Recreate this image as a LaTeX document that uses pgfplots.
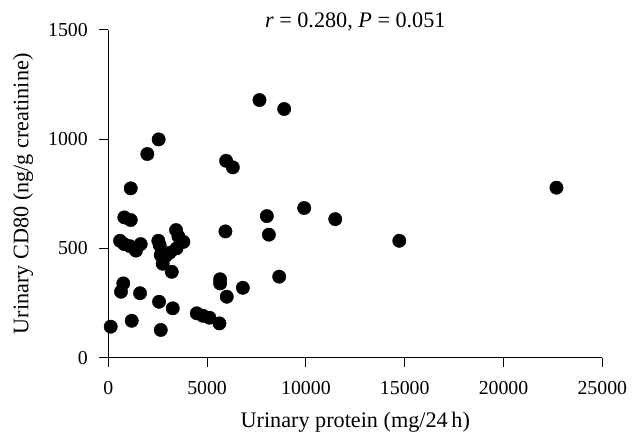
\documentclass[border=0pt]{standalone}
\usepackage{fontspec}
\setmainfont{Liberation Serif}
\usepackage{pgfplots}
\pgfplotsset{compat=1.18}
\begin{document}
\begin{tikzpicture}
\begin{axis}[
  at={(0,0)}, anchor=south west,
  scale only axis, width=494bp, height=327.8bp,
  xmin=0, xmax=25000, ymin=0, ymax=1500,
  axis x line*=bottom, axis y line*=left,
  axis line style={-, line width=0.9pt},
  tick align=outside, major tick length=9bp,
  tick style={line width=0.9pt, black},
  xtick={0,5000,...,25000}, ytick={0,500,1000,1500},
  scaled x ticks=false,
  /pgf/number format/assume math mode=true,
  xticklabel style={/pgf/number format/1000 sep={}, font=\fontsize{19.8bp}{22bp}\selectfont, yshift=-11bp},
  yticklabel style={/pgf/number format/1000 sep={}, font=\fontsize{19.8bp}{22bp}\selectfont, xshift=-8bp},
  xlabel={Urinary protein (mg/24\,h)},
  ylabel={Urinary CD80 (ng/g creatinine)},
  xlabel style={font=\fontsize{22.2bp}{24bp}\selectfont, at={(axis description cs:0.5,0)}, anchor=base, yshift=-70bp},
  ylabel style={font=\fontsize{22.2bp}{24bp}\selectfont, at={(axis description cs:-0.162,0.5)}, anchor=base},
  clip=false,
]
\addplot[only marks, mark=*, mark size=6.7bp, mark options={fill=black, draw=black}] coordinates {
(7650,1179) (8900,1138) (2548,999) (1976,932) (5963,901) (6302,871)
(1135,775) (811,642) (1135,630) (9914,685) (8024,648) (8126,563)
(5927,578) (11486,634) (14727,535) (22680,778)
(593,535) (800,520) (1100,510) (1400,490) (1640,520)
(2533,535) (2600,515) (2650,470) (2750,430) (3211,393)
(3430,584) (3550,555) (3800,530) (3450,500) (3100,480) (2900,465)
(760,340) (643,302) (1606,295) (2569,256) (3262,226)
(122,142) (1185,169) (2655,127)
(5659,359) (5659,340) (5996,279) (6809,320) (8648,371)
(4478,203) (4782,192) (5117,183) (5624,157)
};
\node[anchor=base, yshift=2bp] at (axis cs:12500,1500) {\fontsize{22.2bp}{24bp}\selectfont \textit{r} = 0.280, \textit{P} = 0.051};
\end{axis}
\pgfresetboundingbox
\path (-108.3bp,-89.3bp) rectangle (531.7bp,357.7bp);
\end{tikzpicture}
\end{document}
